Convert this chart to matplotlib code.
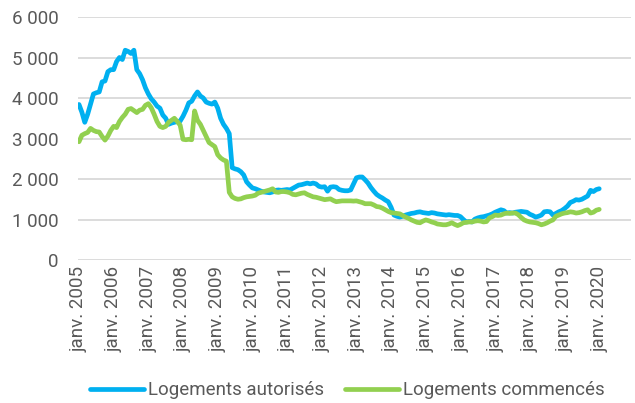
import matplotlib
matplotlib.use("Agg")
import matplotlib.pyplot as plt
import numpy as np

# monthly values, janv. 2005 -> janv. 2020
autorises = [
    3840, 3650, 3400, 3600, 3850, 4100, 4130, 4150, 4400, 4420, 4650, 4700,
    4700, 4900, 5000, 4950, 5180, 5150, 5100, 5180, 4700, 4600, 4450, 4250,
    4100, 3980, 3900, 3800, 3750, 3580, 3500, 3350, 3380, 3400, 3420, 3430,
    3550, 3700, 3880, 3920, 4050, 4150, 4050, 4000, 3900, 3870, 3850, 3900,
    3750, 3500, 3350, 3250, 3120, 2280, 2250, 2230, 2180, 2100, 1930, 1850,
    1780, 1760, 1730, 1700, 1680, 1670, 1660, 1680, 1720, 1730, 1720, 1730,
    1740, 1730, 1770, 1810, 1850, 1860, 1880, 1900, 1880, 1900, 1880, 1820,
    1800, 1810, 1700, 1800, 1810, 1800, 1740, 1720, 1710, 1710, 1730, 1880,
    2030, 2050, 2050, 1980, 1900, 1790, 1700, 1620, 1570, 1530, 1480, 1440,
    1300, 1110, 1080, 1060, 1080, 1110, 1130, 1150, 1160, 1180, 1190, 1170,
    1160, 1150, 1170, 1160, 1140, 1130, 1120, 1110, 1120, 1110, 1100, 1100,
    1070, 1000, 940, 950, 940, 1010, 1040, 1060, 1070, 1090, 1110, 1140,
    1180, 1210, 1240, 1220, 1160, 1170, 1160, 1180, 1190, 1200, 1190, 1180,
    1130, 1100, 1060, 1080, 1110, 1190, 1200, 1190, 1110, 1150, 1190, 1220,
    1270, 1330, 1420, 1450, 1490, 1480, 1500, 1540, 1580, 1720, 1690, 1740,
    1760,
]
commences = [
    2920, 3080, 3120, 3150, 3250, 3200, 3170, 3160, 3050, 2960, 3060, 3200,
    3300, 3270, 3420, 3520, 3600, 3720, 3740, 3690, 3640, 3700, 3720, 3820,
    3860, 3760, 3600, 3420, 3300, 3270, 3300, 3400, 3450, 3500, 3420, 3330,
    2980, 2970, 2980, 2970, 3680, 3450, 3350, 3200, 3050, 2900, 2850, 2800,
    2600, 2520, 2470, 2440, 1670, 1560, 1520, 1500, 1510, 1540, 1560, 1570,
    1580, 1600, 1650, 1670, 1690, 1710, 1730, 1760, 1680, 1670, 1690, 1690,
    1680, 1660, 1620, 1610, 1630, 1650, 1660, 1620, 1590, 1560, 1550, 1530,
    1510, 1490, 1500, 1510, 1470, 1440, 1450, 1460, 1460, 1460, 1460, 1455,
    1460, 1440, 1420, 1390, 1390, 1390, 1360, 1320, 1310, 1280, 1240, 1200,
    1170, 1160, 1150, 1140, 1100, 1060, 1030, 990, 960, 930, 920, 960,
    990, 970, 940, 920, 890, 880, 870, 870, 890, 920, 880, 850,
    880, 920, 930, 940, 940, 960, 970, 960, 940, 950, 1040, 1070,
    1110, 1100, 1110, 1140, 1160, 1150, 1160, 1160, 1120, 1050, 990, 960,
    940, 930, 920, 900, 870, 890, 920, 960, 990, 1080, 1110, 1140,
    1160, 1170, 1190, 1180, 1160, 1170, 1190, 1220, 1240, 1160, 1180, 1230,
    1250,
]
years = list(range(2005, 2021))
tick_labels = ["janv. %d" % y for y in years]
yticks = [0, 1000, 2000, 3000, 4000, 5000, 6000]
ytick_labels = ["0", "1 000", "2 000", "3 000", "4 000", "5 000", "6 000"]

plt.rcParams['font.family'] = ['Roboto', 'DejaVu Sans']
grey = "#595959"

fig = plt.figure(figsize=(6.35, 4.03), dpi=100)
ax = fig.add_axes([0.1228, 0.3548, 0.8709, 0.603])

m = np.arange(len(autorises))
ax.plot(m, autorises, color="#00B0F0", lw=3.4, label="Logements autorisés",
        solid_joinstyle="round", solid_capstyle="round")
ax.plot(m[:len(commences)], commences, color="#92D050", lw=3.4,
        label="Logements commencés", solid_joinstyle="round", solid_capstyle="round")

ax.set_ylim(0, 6000)
ax.set_xlim(-0.35, 191)
ax.set_yticks(yticks)
ax.set_yticklabels(ytick_labels)
ax.set_xticks([12 * i for i in range(len(years))])
ax.set_xticklabels(tick_labels, rotation=90)
ax.tick_params(axis="y", length=0, pad=14, labelsize=13.5, labelcolor=grey)
ax.tick_params(axis="x", length=0, pad=4, labelsize=13.5, labelcolor=grey)
ax.grid(axis="y", color="#d9d9d9", lw=1.3)
ax.set_axisbelow(True)
for s in ax.spines.values():
    s.set_visible(False)

leg = fig.legend(loc="center", bbox_to_anchor=(0.547, 0.032), ncol=2, frameon=False,
                 fontsize=13.5, handlelength=2.9, handletextpad=0.2, columnspacing=1.1,
                 labelcolor=grey)

fig.savefig("out.png", dpi=100)
